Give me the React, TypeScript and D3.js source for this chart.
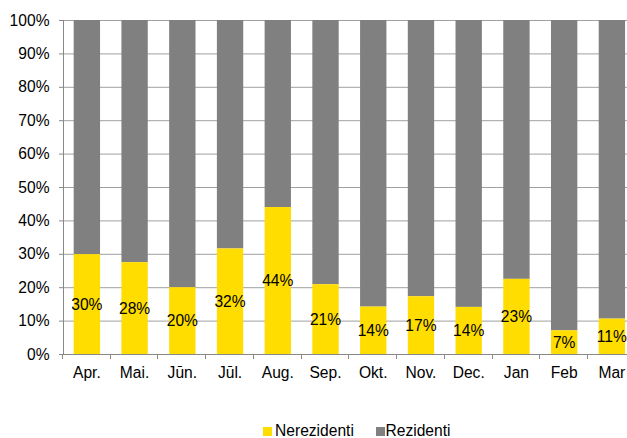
import React from "react";
import * as d3 from "d3";

const months = ["Apr.", "Mai.", "Jūn.", "Jūl.", "Aug.", "Sep.", "Okt.", "Nov.", "Dec.", "Jan", "Feb", "Mar"];
const nerezidenti = [29.9, 27.5, 20.0, 31.6, 44.0, 20.9, 14.2, 17.3, 14.1, 22.5, 7.1, 10.6];
const labels = ["30%", "28%", "20%", "32%", "44%", "21%", "14%", "17%", "14%", "23%", "7%", "11%"];
const yTicks = [0, 10, 20, 30, 40, 50, 60, 70, 80, 90, 100];
const seriesNames = ["Nerezidenti", "Rezidenti"];

const W = 627;
const H = 438;
const YELLOW = "#FFDD00";
const GRAY = "#808080";
const FONT = "'Liberation Sans', Arial, sans-serif";
const FS = 15.6;

export default function App() {
  const left = 63;
  const step = 47.73;
  const right = left + step * months.length;
  const top = 20;
  const bottom = 354;

  const x = d3.scaleBand<string>().domain(months).range([left, right]).paddingInner(0.448).paddingOuter(0.224);
  const y = d3.scaleLinear().domain([0, 100]).range([bottom, top]);

  return (
    <svg width={W} height={H} style={{ position: "absolute", left: 0, top: 0, background: "#fff" }} fontFamily={FONT}>
      {yTicks.map((t) => (
        <line key={"g" + t} x1={left} x2={W} y1={y(t) + 0.5} y2={y(t) + 0.5} stroke="#a0a0a0" strokeWidth={1} />
      ))}
      {months.map((m, i) => {
        const v = nerezidenti[i];
        const bx = x(m)!;
        const bw = x.bandwidth();
        return (
          <g key={m}>
            <rect x={bx} y={y(100)} width={bw} height={y(v) - y(100)} fill={GRAY} />
            <rect x={bx} y={y(v)} width={bw} height={y(0) - y(v)} fill={YELLOW} />
          </g>
        );
      })}
      <line x1={left + 0.5} x2={left + 0.5} y1={top} y2={bottom + 0.5} stroke="#888" strokeWidth={1} />
      {yTicks.map((t) => (
        <g key={"yt" + t}>
          <line x1={left - 4} x2={left} y1={y(t) + 0.5} y2={y(t) + 0.5} stroke="#888" />
          <text x={left - 13.5} y={y(t)} dy="0.36em" textAnchor="end" fontSize={FS} fill="#000">
            {t}%
          </text>
        </g>
      ))}
      <line x1={left} x2={W} y1={bottom + 0.5} y2={bottom + 0.5} stroke="#888" strokeWidth={1} />
      {d3.range(months.length + 1).map((i) => {
        const tx = Math.round(left + i * x.step()) - 0.5;
        return <line key={"xt" + i} x1={tx} x2={tx} y1={bottom} y2={bottom + 5} stroke="#888" />;
      })}
      {months.map((m) => (
        <text key={"xl" + m} x={x(m)! + x.bandwidth() / 2} y={378} textAnchor="middle" fontSize={FS} fill="#000">
          {m}
        </text>
      ))}
      {months.map((m, i) => (
        <text
          key={"dl" + m}
          x={x(m)! + x.bandwidth() / 2}
          y={(y(nerezidenti[i]) + y(0)) / 2}
          dy="0.36em"
          textAnchor="middle"
          fontSize={FS}
          fill="#000"
        >
          {labels[i]}
        </text>
      ))}
      <g>
        <rect x={263} y={427} width={9} height={9} fill={YELLOW} />
        <text x={275} y={436} fontSize={FS} fill="#000">{seriesNames[0]}</text>
        <rect x={376} y={427} width={9} height={9} fill={GRAY} />
        <text x={385.5} y={436} fontSize={FS} fill="#000">{seriesNames[1]}</text>
      </g>
    </svg>
  );
}
